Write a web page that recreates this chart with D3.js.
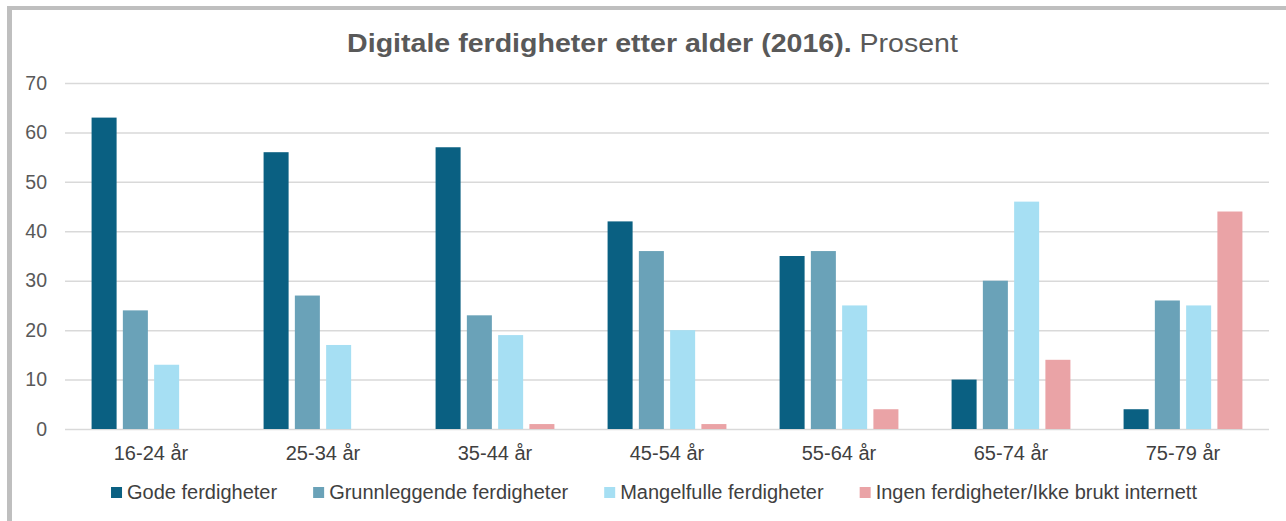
<!DOCTYPE html>
<html>
<head>
<meta charset="utf-8">
<script src="https://cdn.jsdelivr.net/npm/d3@7"></script>
<style>
  body { margin: 0; background: #fff; }
  svg { display: block; font-family: "Liberation Sans", Arial, sans-serif; }
</style>
</head>
<body>
<svg id="chart" width="1286" height="521"></svg>
<script>
// data
const ageGroups = ["16-24 år", "25-34 år", "35-44 år", "45-54 år", "55-64 år", "65-74 år", "75-79 år"];
const seriesNames = ["Gode ferdigheter", "Grunnleggende ferdigheter", "Mangelfulle ferdigheter", "Ingen ferdigheter/Ikke brukt internett"];
const gode = [63, 56, 57, 42, 35, 10, 4];
const grunnleggende = [24, 27, 23, 36, 36, 30, 26];
const mangelfulle = [13, 17, 19, 20, 25, 46, 25];
const ingen = [0, 0, 1, 1, 4, 14, 44];
const yTicks = [0, 10, 20, 30, 40, 50, 60, 70];

const colors = ["#0A6082", "#6AA2B8", "#A6DFF3", "#EAA3A6"];
const seriesValues = [gode, grunnleggende, mangelfulle, ingen];

const svg = d3.select("#chart");

// cropped heading above the frame
svg.append("text").attr("x", 19).attr("y", -3).attr("font-size", 16).attr("fill", "#000").text("g");

// gray frame (only top and left visible)
svg.append("rect").attr("x", 7).attr("y", 6).attr("width", 5).attr("height", 530).attr("fill", "#BFBFBF");
svg.append("rect").attr("x", 7).attr("y", 6).attr("width", 1290).attr("height", 4).attr("fill", "#BFBFBF");

const plotLeft = 65, plotRight = 1269, plotTop = 83, plotBottom = 429;

const y = d3.scaleLinear().domain([0, 70]).range([plotBottom, plotTop]);
const x0 = d3.scaleBand().domain(ageGroups).range([plotLeft, plotRight]).padding(0);
const x1 = d3.scaleBand().domain(seriesNames).range([0, x0.bandwidth()])
  .paddingInner(0.2).paddingOuter(0.85);

// title (the original is drawn a bit wide, so stretch it to the same span)
const titleG = svg.append("g");
const title = titleG.append("text")
  .attr("x", 0).attr("y", 0)
  .attr("text-anchor", "middle")
  .attr("font-size", 25)
  .attr("fill", "#595959");
title.append("tspan").attr("font-weight", "bold").text("Digitale ferdigheter etter alder (2016).");
title.append("tspan").text(" Prosent");
const tw = title.node().getBBox().width;
titleG.attr("transform", `translate(652.5,52) scale(${611 / tw},1)`);

// gridlines + y labels
const yAxis = d3.axisLeft(y).tickValues(yTicks).tickSize(-(plotRight - plotLeft)).tickPadding(18);
const gy = svg.append("g").attr("transform", `translate(${plotLeft},0)`).call(yAxis);
gy.select(".domain").remove();
gy.selectAll(".tick line").attr("stroke", "#D9D9D9").attr("stroke-width", 1.5);
gy.selectAll(".tick text")
  .attr("font-size", 19.5)
  .attr("font-family", "Liberation Sans, Arial, sans-serif")
  .attr("fill", "#595959");

// bars
const groups = svg.selectAll(".group")
  .data(ageGroups)
  .enter()
  .append("g")
  .attr("class", "group")
  .attr("transform", d => `translate(${x0(d)},0)`);

groups.selectAll("rect")
  .data((d, i) => seriesNames.map((s, j) => ({ series: s, value: seriesValues[j][i], color: colors[j] })))
  .enter()
  .append("rect")
  .attr("x", d => x1(d.series))
  .attr("y", d => y(d.value))
  .attr("width", x1.bandwidth())
  .attr("height", d => y(0) - y(d.value))
  .attr("fill", d => d.color);

// x labels
const xAxis = d3.axisBottom(x0).tickSize(0).tickPadding(17);
const gx = svg.append("g").attr("transform", `translate(0,${plotBottom})`).call(xAxis);
gx.select(".domain").remove();
gx.selectAll(".tick text")
  .attr("font-size", 20)
  .attr("font-family", "Liberation Sans, Arial, sans-serif")
  .attr("fill", "#404040");

// legend
const legend = svg.append("g").attr("transform", "translate(0,499)");
const items = legend.selectAll(".item")
  .data(seriesNames)
  .enter()
  .append("g")
  .attr("class", "item");
items.append("rect")
  .attr("y", -12).attr("width", 11).attr("height", 11)
  .attr("fill", (d, i) => colors[i]);
items.append("text")
  .attr("x", 16)
  .attr("font-size", 20)
  .attr("fill", "#404040")
  .text(d => d);

let widths = [];
items.each(function() { widths.push(16 + this.querySelector("text").getComputedTextLength()); });
const gap = 36;
const total = d3.sum(widths) + gap * (widths.length - 1);
let cx = 654 - total / 2;
items.attr("transform", (d, i) => {
  const pos = cx;
  cx += widths[i] + gap;
  return `translate(${pos},0)`;
});
</script>
</body>
</html>
